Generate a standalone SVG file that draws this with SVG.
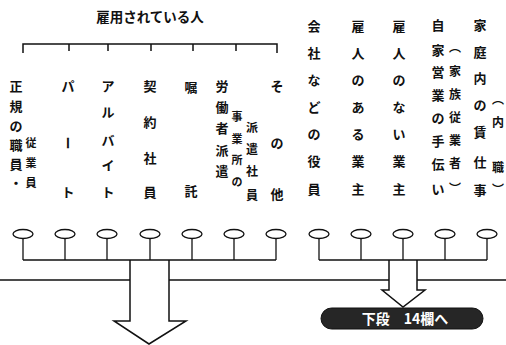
<svg xmlns="http://www.w3.org/2000/svg" width="506" height="345" viewBox="0 0 506 345">
<style>
text{font-family:"Noto Sans CJK JP","Noto Sans CJK SC",sans-serif;fill:#111;font-weight:bold;text-anchor:middle}
.m{font-size:13px}
.s{font-size:11px}
.t{font-size:12px}
.ttl{font-size:13.5px}
.oval{fill:#fff;stroke:#111;stroke-width:1.3}
.stem{stroke:#111;stroke-width:1.3;fill:none}
.ln{stroke:#111;stroke-width:1.5;fill:none}
.lbl{fill:#fff;font-size:14px;font-weight:bold}
</style>
<rect width="506" height="345" fill="#fff"/>
<g id="title"><text class="ttl" x="150" y="22">雇用されている人</text></g>
<g id="connectors">
<path class="ln" d="M23,53V44H277V53M69,44V51M108,44V51M151,44V51M193,44V51M236,44V51" stroke-width="2"/>
<path class="ln" d="M23,260H276M319,260H487"/>
<path class="ln" d="M0,280H130M169,280H389M417,280H506"/>
<path class="ln" d="M130,260V321H114L149,344L186,321H169V260"/>
<path class="ln" d="M389,260V290H382L403,307L425,290H417V260"/>
</g>
<g id="col1">
<text class="m"><tspan x="16" y="91">正</tspan><tspan x="16" y="111">規</tspan><tspan x="16" y="131">の</tspan><tspan x="16" y="150">職</tspan><tspan x="16" y="169">員</tspan><tspan x="16" y="188">・</tspan></text>
<text class="s"><tspan x="31" y="147">従</tspan><tspan x="31" y="167">業</tspan><tspan x="31" y="187">員</tspan></text>
<ellipse class="oval" cx="23" cy="234" rx="10" ry="4.5"/><path class="stem" d="M23,238.5V260"/>
</g>
<g id="col2">
<text class="m"><tspan x="68" y="91">パ</tspan><tspan x="68" y="197">ト</tspan></text>
<text class="m" transform="rotate(90 68 143)" x="68" y="148">ー</text>
<ellipse class="oval" cx="65" cy="234" rx="10" ry="4.5"/><path class="stem" d="M65,238.5V260"/>
</g>
<g id="col3">
<text class="m"><tspan x="108" y="91">ア</tspan><tspan x="108" y="117">ル</tspan><tspan x="108" y="145">バ</tspan><tspan x="108" y="170">イ</tspan><tspan x="108" y="197">ト</tspan></text>
<ellipse class="oval" cx="107" cy="234" rx="10" ry="4.5"/><path class="stem" d="M107,238.5V260"/>
</g>
<g id="col4">
<text class="m"><tspan x="150" y="91">契</tspan><tspan x="150" y="127">約</tspan><tspan x="150" y="163">社</tspan><tspan x="150" y="197">員</tspan></text>
<ellipse class="oval" cx="150" cy="234" rx="10" ry="4.5"/><path class="stem" d="M150,238.5V260"/>
</g>
<g id="col5">
<text class="m"><tspan x="191" y="92">嘱</tspan><tspan x="191" y="196">託</tspan></text>
<ellipse class="oval" cx="192" cy="234" rx="10" ry="4.5"/><path class="stem" d="M192,238.5V260"/>
</g>
<g id="col6">
<text class="m"><tspan x="222" y="91">労</tspan><tspan x="222" y="112">働</tspan><tspan x="222" y="133">者</tspan><tspan x="222" y="155">派</tspan><tspan x="222" y="176">遣</tspan></text>
<text class="s"><tspan x="237" y="121">事</tspan><tspan x="237" y="143">業</tspan><tspan x="237" y="164">所</tspan><tspan x="237" y="186">の</tspan></text>
<text class="t"><tspan x="252" y="132">派</tspan><tspan x="252" y="154">遣</tspan><tspan x="252" y="176">社</tspan><tspan x="252" y="200">員</tspan></text>
<ellipse class="oval" cx="234" cy="234" rx="10" ry="4.5"/><path class="stem" d="M234,238.5V260"/>
</g>
<g id="col7">
<text class="m"><tspan x="277" y="91">そ</tspan><tspan x="277" y="148">の</tspan><tspan x="277" y="199">他</tspan></text>
<ellipse class="oval" cx="276" cy="234" rx="10" ry="4.5"/><path class="stem" d="M276,238.5V260"/>
</g>
<g id="col8">
<text class="m"><tspan x="314" y="31">会</tspan><tspan x="314" y="58">社</tspan><tspan x="314" y="85">な</tspan><tspan x="314" y="112">ど</tspan><tspan x="314" y="139">の</tspan><tspan x="314" y="166">役</tspan><tspan x="314" y="194">員</tspan></text>
<ellipse class="oval" cx="319" cy="234" rx="10" ry="4.5"/><path class="stem" d="M319,238.5V260"/>
</g>
<g id="col9">
<text class="m"><tspan x="358" y="31">雇</tspan><tspan x="358" y="58">人</tspan><tspan x="358" y="85">の</tspan><tspan x="358" y="112">あ</tspan><tspan x="358" y="139">る</tspan><tspan x="358" y="166">業</tspan><tspan x="358" y="194">主</tspan></text>
<ellipse class="oval" cx="361" cy="234" rx="10" ry="4.5"/><path class="stem" d="M361,238.5V260"/>
</g>
<g id="col10">
<text class="m"><tspan x="399" y="31">雇</tspan><tspan x="399" y="58">人</tspan><tspan x="399" y="85">の</tspan><tspan x="399" y="112">な</tspan><tspan x="399" y="139">い</tspan><tspan x="399" y="166">業</tspan><tspan x="399" y="194">主</tspan></text>
<ellipse class="oval" cx="403" cy="234" rx="10" ry="4.5"/><path class="stem" d="M403,238.5V260"/>
</g>
<g id="col11">
<text class="m"><tspan x="438" y="30">自</tspan><tspan x="438" y="55">家</tspan><tspan x="438" y="77">営</tspan><tspan x="438" y="100">業</tspan><tspan x="438" y="123">の</tspan><tspan x="438" y="146">手</tspan><tspan x="438" y="169">伝</tspan><tspan x="438" y="194">い</tspan></text>
<text class="t"><tspan x="455" y="52">︵</tspan><tspan x="455" y="76">家</tspan><tspan x="455" y="99">族</tspan><tspan x="455" y="122">従</tspan><tspan x="455" y="145">業</tspan><tspan x="455" y="168">者</tspan><tspan x="455" y="193">︶</tspan></text>
<ellipse class="oval" cx="445" cy="234" rx="10" ry="4.5"/><path class="stem" d="M445,238.5V260"/>
</g>
<g id="col12">
<text class="m"><tspan x="480" y="30">家</tspan><tspan x="480" y="57">庭</tspan><tspan x="480" y="83">内</tspan><tspan x="480" y="110">の</tspan><tspan x="480" y="137">賃</tspan><tspan x="480" y="167">仕</tspan><tspan x="480" y="195">事</tspan></text>
<text class="t"><tspan x="498" y="104">︵</tspan><tspan x="498" y="127">内</tspan><tspan x="498" y="172">職</tspan><tspan x="498" y="194">︶</tspan></text>
<ellipse class="oval" cx="487" cy="234" rx="10" ry="4.5"/><path class="stem" d="M487,238.5V260"/>
</g>
<g id="next">
<rect x="321" y="308" width="162" height="21" rx="10.5" fill="#262626" stroke="#111" stroke-width="1"/>
<text class="lbl" x="405" y="324">下段　14欄へ</text>
</g>
</svg>
